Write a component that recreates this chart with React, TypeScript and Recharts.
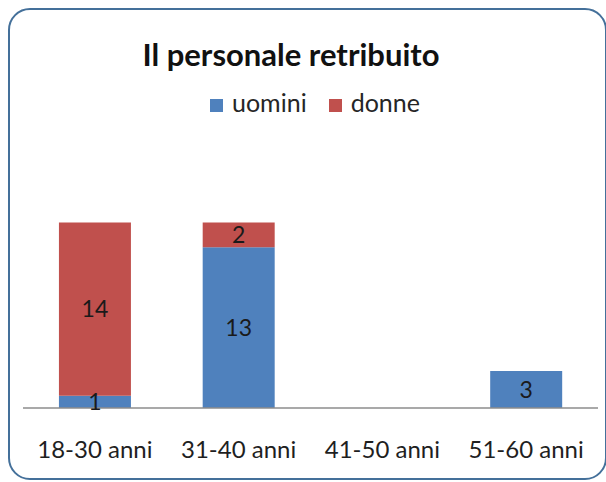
import { BarChart, Bar, XAxis, YAxis, LabelList } from 'recharts';

const categories = ['18-30 anni', '31-40 anni', '41-50 anni', '51-60 anni'];
const uomini = [1, 13, 0, 3];
const donne = [14, 2, 0, 0];
const seriesNames = ['uomini', 'donne'];
const seriesColors = ['#4F81BD', '#C0504D'];

const data = categories.map((c, i) => ({ name: c, uomini: uomini[i], donne: donne[i] }));

const font = 'Lato, "Open Sans", sans-serif';
const hideZero = (v: any) => (v ? v : '');

export default function App() {
  return (
    <div style={{ position: 'relative', width: 606, height: 482, fontFamily: font, overflow: 'hidden' }}>
      <style>{'body{margin:0;overflow:hidden}'}</style>
      {/* cornice */}
      <div
        style={{
          position: 'absolute',
          left: 8,
          top: 8,
          width: 599,
          height: 472,
          boxSizing: 'border-box',
          border: '2px solid #44709A',
          borderRadius: 22,
        }}
      />
      <div
        style={{
          position: 'absolute',
          left: 0,
          top: 36,
          width: 582,
          textAlign: 'center',
          fontSize: 31,
          fontWeight: 700,
          lineHeight: 1.2,
          color: '#111',
        }}
      >
        Il personale retribuito
      </div>
      <div style={{ position: 'absolute', left: 210, top: 90, display: 'flex', fontSize: 25, lineHeight: '25px', color: '#262626' }}>
        {seriesNames.map((s, i) => (
          <div key={s} style={{ display: 'flex', alignItems: 'flex-start', marginRight: 22 }}>
            <span style={{ width: 13, height: 13, marginTop: 9, marginRight: 9, background: seriesColors[i] }} />
            <span>{s}</span>
          </div>
        ))}
      </div>
      <div style={{ position: 'absolute', left: 0, top: 0 }}>
        <BarChart
          width={606}
          height={482}
          data={data}
          margin={{ top: 210, right: 8, left: 23, bottom: 14 }}
          barCategoryGap="25%"
        >
          <XAxis
            dataKey="name"
            height={60}
            tickLine={false}
            tickSize={0}
            tickMargin={33}
            axisLine={{ stroke: '#8C8C8C', strokeWidth: 1.5 }}
            tick={{ fill: '#1f1f1f', fontSize: 24, fontFamily: font }}
          />
          <YAxis hide domain={[0, 16]} />
          <Bar dataKey="uomini" stackId="a" fill={seriesColors[0]} isAnimationActive={false}>
            <LabelList dataKey="uomini" position="center" formatter={hideZero} fill="#1a1a1a" fontSize={23} fontFamily={font} />
          </Bar>
          <Bar dataKey="donne" stackId="a" fill={seriesColors[1]} isAnimationActive={false}>
            <LabelList dataKey="donne" position="center" formatter={hideZero} fill="#1a1a1a" fontSize={23} fontFamily={font} />
          </Bar>
        </BarChart>
      </div>
    </div>
  );
}
